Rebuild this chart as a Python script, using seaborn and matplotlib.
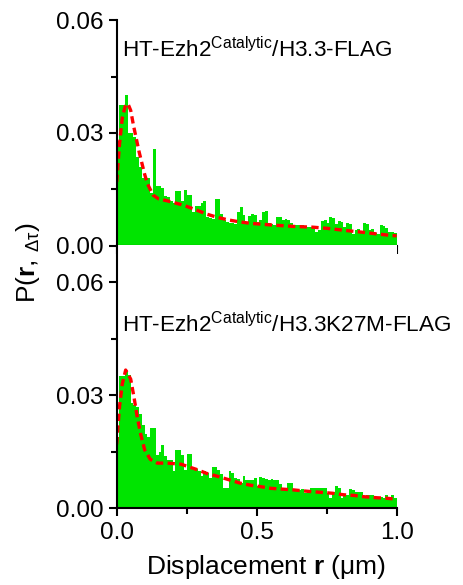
import numpy as np
import pandas as pd
import matplotlib
matplotlib.use('Agg')
import matplotlib.pyplot as plt
import seaborn as sns

# histogram heights, 100 bins of 0.01 um from 0 to 1
top_heights = [0.0280, 0.0375, 0.0375, 0.0400, 0.0300, 0.0300, 0.0290, 0.0236, 0.0210, 0.0180,
               0.0180, 0.0180, 0.0140, 0.0258, 0.0160, 0.0160, 0.0154, 0.0133, 0.0129, 0.0120,
               0.0115, 0.0147, 0.0145, 0.0120, 0.0149, 0.0136, 0.0136, 0.0090, 0.0105, 0.0107,
               0.0115, 0.0120, 0.0078, 0.0075, 0.0072, 0.0124, 0.0124, 0.0085, 0.0070, 0.0065,
               0.0060, 0.0060, 0.0058, 0.0089, 0.0103, 0.0082, 0.0065, 0.0080, 0.0085, 0.0083,
               0.0065, 0.0070, 0.0090, 0.0092, 0.0060, 0.0058, 0.0055, 0.0078, 0.0078, 0.0068,
               0.0072, 0.0070, 0.0060, 0.0055, 0.0056, 0.0055, 0.0056, 0.0052, 0.0050, 0.0050,
               0.0052, 0.0038, 0.0042, 0.0067, 0.0068, 0.0060, 0.0078, 0.0075, 0.0058, 0.0067,
               0.0063, 0.0050, 0.0060, 0.0058, 0.0031, 0.0043, 0.0045, 0.0040, 0.0060, 0.0058,
               0.0043, 0.0044, 0.0035, 0.0032, 0.0056, 0.0053, 0.0048, 0.0038, 0.0036, 0.0035]

bottom_heights = [0.0190, 0.0350, 0.0350, 0.0365, 0.0355, 0.0280, 0.0275, 0.0270, 0.0250, 0.0220,
                  0.0196, 0.0190, 0.0214, 0.0214, 0.0142, 0.0150, 0.0169, 0.0140, 0.0129, 0.0129,
                  0.0100, 0.0156, 0.0156, 0.0142, 0.0102, 0.0144, 0.0144, 0.0107, 0.0105, 0.0100,
                  0.0085, 0.0098, 0.0095, 0.0080, 0.0110, 0.0110, 0.0102, 0.0091, 0.0053, 0.0055,
                  0.0100, 0.0095, 0.0080, 0.0078, 0.0067, 0.0085, 0.0075, 0.0076, 0.0075, 0.0080,
                  0.0058, 0.0082, 0.0080, 0.0078, 0.0076, 0.0078, 0.0076, 0.0076, 0.0064, 0.0055,
                  0.0053, 0.0067, 0.0067, 0.0049, 0.0050, 0.0049, 0.0050, 0.0040, 0.0045, 0.0055,
                  0.0053, 0.0053, 0.0055, 0.0055, 0.0053, 0.0040, 0.0028, 0.0044, 0.0058, 0.0055,
                  0.0027, 0.0036, 0.0036, 0.0050, 0.0048, 0.0044, 0.0044, 0.0044, 0.0027, 0.0036,
                  0.0036, 0.0036, 0.0027, 0.0031, 0.0031, 0.0027, 0.0036, 0.0026, 0.0034, 0.0027]

# fitted curves
top_fit_r = [0.0, 0.01, 0.02, 0.03, 0.04, 0.05, 0.06, 0.08, 0.10, 0.11, 0.13, 0.15, 0.18,
             0.24, 0.29, 0.32, 0.36, 0.40, 0.44, 0.48, 0.55, 0.63, 0.70, 0.75, 0.82, 0.86,
             0.93, 0.98, 1.0]
top_fit_p = [0.017, 0.027, 0.034, 0.037, 0.0378, 0.036, 0.032, 0.025, 0.019, 0.0165, 0.0135,
             0.0125, 0.012, 0.0108, 0.0094, 0.0085, 0.0076, 0.0069, 0.0064, 0.006, 0.0056,
             0.0052, 0.005, 0.0047, 0.0041, 0.0038, 0.0032, 0.0028, 0.0027]

bottom_fit_r = [0.0, 0.01, 0.02, 0.032, 0.05, 0.062, 0.074, 0.086, 0.10, 0.12, 0.145, 0.18,
                0.23, 0.29, 0.32, 0.36, 0.40, 0.44, 0.48, 0.51, 0.55, 0.59, 0.63, 0.67, 0.70,
                0.77, 0.81, 0.85, 0.88, 0.93, 0.96, 1.0]
bottom_fit_p = [0.017, 0.027, 0.033, 0.0367, 0.0343, 0.0294, 0.024, 0.0196, 0.0155, 0.013,
                0.012, 0.012, 0.0117, 0.0102, 0.0093, 0.0085, 0.0076, 0.0067, 0.0061, 0.0058,
                0.0053, 0.0051, 0.0049, 0.0046, 0.0044, 0.004, 0.0036, 0.0034, 0.0031, 0.0028,
                0.0027, 0.0024]

labels = [r'HT-Ezh2$^{\mathrm{Catalytic}}$/H3.3-FLAG',
          r'HT-Ezh2$^{\mathrm{Catalytic}}$/H3.3K27M-FLAG']

sns.set_style('ticks')
plt.rcParams['font.family'] = ['Liberation Sans', 'DejaVu Sans']
plt.rcParams['mathtext.fontset'] = 'custom'
plt.rcParams['mathtext.rm'] = 'Liberation Sans'
plt.rcParams['mathtext.bf'] = 'Liberation Sans:bold'
plt.rcParams['mathtext.it'] = 'Liberation Sans:italic'
for k in ['text.color', 'axes.labelcolor', 'xtick.color', 'ytick.color']:
    plt.rcParams[k] = 'black'

centers = np.arange(100) * 0.01 + 0.005
green = '#00e400'

fig = plt.figure(figsize=(4.64, 5.85), dpi=100)
ax_top = fig.add_axes([0.2515, 0.5795, 0.6034, 0.3863])
ax_bot = fig.add_axes([0.2515, 0.1311, 0.6034, 0.4508])

panels = [(ax_top, top_heights, top_fit_r, top_fit_p, 0.06, labels[0], 0.0500),
          (ax_bot, bottom_heights, bottom_fit_r, bottom_fit_p, 0.07, labels[1], 0.0468)]

for ax, h, fr, fp, ytop, lab, ly in panels:
    df = pd.DataFrame({'r': centers, 'p': h})
    sns.histplot(data=df, x='r', weights='p', binwidth=0.01, binrange=(0, 1),
                 color=green, alpha=1, linewidth=0, ax=ax)
    fit = pd.DataFrame({'r': fr, 'p': fp})
    sns.lineplot(data=fit, x='r', y='p', color='#ff0000', lw=2.4, ax=ax,
                 linestyle=(0, (2.2, 1.3)))
    ax.set_xlim(0, 1.0)
    ax.set_ylim(0, ytop)
    ax.set_yticks([0, 0.03, 0.06])
    ax.set_yticks([0.015, 0.045], minor=True)
    ax.set_xticks([0, 0.5, 1.0])
    ax.set_xticks([0.25, 0.75], minor=True)
    ax.set_ylabel('')
    ax.set_xlabel('')
    for s in ['top', 'right']:
        ax.spines[s].set_visible(False)
    for s in ['left', 'bottom']:
        ax.spines[s].set_linewidth(1.5)
        ax.spines[s].set_color('black')
    ax.tick_params(which='major', direction='out', length=6, width=1.5, labelsize=17.5)
    ax.tick_params(which='minor', direction='out', length=4, width=1.5)
    ax.text(0.019, ly, lab, fontsize=16.2, va='baseline', ha='left', color='black')
    ax.set_yticklabels(['0.00', '0.03', '0.06'])

ax_top.set_xticklabels([])
ax_bot.set_xticklabels(['0.0', '0.5', '1.0'])

fig.text(266 / 464, 1 - 567 / 585, r'Displacement $\mathbf{r}$ ($\mathrm{\mu}$m)',
         fontsize=19, ha='center', va='center')
fig.text(28 / 464, 1 - 262 / 585, r'P($\mathbf{r}$, $\mathregular{_{\Delta\tau}}$)', fontsize=19,
         rotation=90, ha='center', va='center')

fig.savefig('out.png', dpi=100)
